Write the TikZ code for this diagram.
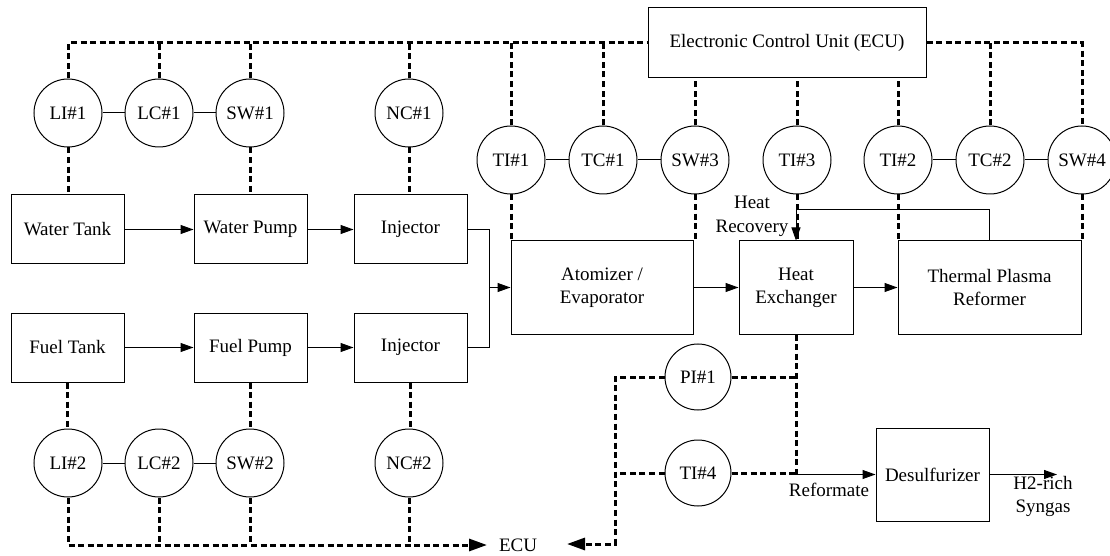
\documentclass[tikz,border=0pt]{standalone}
\usepackage{fontspec}
\setmainfont{Liberation Serif}
\usetikzlibrary{positioning, arrows.meta}

\tikzset{
    block/.style={draw, line width=0.5pt, minimum width=56.5pt, minimum height=34.5pt, inner sep=1pt, align=center},
    bigblock/.style={block, minimum height=46.5pt},
    sensor/.style={draw, circle, line width=0.5pt, minimum size=34pt, inner sep=0pt},
    lbl/.style={inner sep=1pt, align=center},
    sig/.style={line width=1.5pt, dash pattern=on 3pt off 1.8pt},
    sigtip/.style={-{Triangle[length=9pt, width=6pt]}},
    flow/.style={line width=0.5pt, -{Triangle[length=6.5pt, width=4.5pt]}},
    pipe/.style={line width=0.5pt},
}

\begin{document}
\begin{tikzpicture}[x=0.5pt, y=-0.5pt, font=\fontsize{9.5}{11.5}\selectfont]
\useasboundingbox (0,0) rectangle (1110,556);

% blocks
\node[block] (wtank) at (67.5,229.5) {Water Tank};
\node[block, right=34.5pt of wtank] (wpump) {Water Pump};
\node[block, right=23pt of wpump] (winj) {Injector};
\node[block, below=24pt of wtank] (ftank) {Fuel Tank};
\node[block, right=34.5pt of ftank] (fpump) {Fuel Pump};
\node[block, right=23pt of fpump] (finj) {Injector};
\node[bigblock, minimum width=91pt] (atom) at (602,287.5) {Atomizer /\\Evaporator};
\node[bigblock, minimum width=57pt] (hx) at (796,287.5) {Heat\\Exchanger};
\node[bigblock, minimum width=91.5pt] (ref) at (989.5,287.5) {Thermal Plasma\\Reformer};
\node[bigblock] (desulf) at (932.5,474.5) {Desulfurizer};
\node[block, minimum width=139pt, minimum height=35pt] (ecu) at (787,43) {Electronic Control Unit (ECU)};

% sensors
\node[sensor] (li1) at (68,113) {LI\#1};
\node[sensor, right=11pt of li1] (lc1) {LC\#1};
\node[sensor, right=11pt of lc1] (sw1) {SW\#1};
\node[sensor] (nc1) at (409,113) {NC\#1};
\node[sensor] (li2) at (68,463) {LI\#2};
\node[sensor, right=11pt of li2] (lc2) {LC\#2};
\node[sensor, right=11pt of lc2] (sw2) {SW\#2};
\node[sensor] (nc2) at (409,463) {NC\#2};
\node[sensor] (ti1) at (511,160) {TI\#1};
\node[sensor, right=11.5pt of ti1] (tc1) {TC\#1};
\node[sensor, right=11.5pt of tc1] (sw3) {SW\#3};
\node[sensor] (ti3) at (797,160) {TI\#3};
\node[sensor] (ti2) at (898,160) {TI\#2};
\node[sensor, right=11.5pt of ti2] (tc2) {TC\#2};
\node[sensor, right=11.5pt of tc2] (sw4) {SW\#4};
\node[sensor, minimum size=33pt] (pi1) at (698,377) {PI\#1};
\node[sensor, minimum size=33pt] (ti4) at (698,473) {TI\#4};

% labels
\node[lbl] (ecutxt) at (518,545) {ECU};
\node[lbl, font=\fontsize{9.5}{12}\selectfont] (hrlbl) at (752,216) {Heat\\Recovery};
\node[lbl] (reflbl) at (829,490) {Reformate};
\node[lbl] (gaslbl) at (1043,496) {H2-rich\\Syngas};

\coordinate (mix) at (489,287.5);
\coordinate (gasout) at (1057,474.5);
\coordinate (ecuL) at (487,545);
\coordinate (ecuR) at (567,544);
\coordinate (jn) at (615,544);

% process flow
\draw[flow] (wtank) -- (wpump);
\draw[flow] (wpump) -- (winj);
\draw[flow] (ftank) -- (fpump);
\draw[flow] (fpump) -- (finj);
\draw[pipe] (winj.east) -| (mix);
\draw[pipe] (finj.east) -| (mix);
\draw[flow] (mix) -- (atom.west);
\draw[flow] (atom) -- (hx);
\draw[flow] (hx) -- (ref);
\draw[flow] (ref.north) -- ++(0,-31) -| (hx.north);
\draw[flow] (hx.south |- desulf.west) -- (desulf.west);
\draw[flow] (desulf.east) -- (gasout);

% local links between sensors
\draw[pipe] (li1) -- (lc1) -- (sw1);
\draw[pipe] (li2) -- (lc2) -- (sw2);
\draw[pipe] (ti1) -- (tc1) -- (sw3);
\draw[pipe] (ti2) -- (tc2) -- (sw4);

% signal bus to ECU (top)
\draw[sig] (li1.north) |- (ecu.west);
\draw[sig] (lc1.north) -- (lc1.north |- ecu.west);
\draw[sig] (sw1.north) -- (sw1.north |- ecu.west);
\draw[sig] (nc1.north) -- (nc1.north |- ecu.west);
\draw[sig] (ti1.north) -- (ti1.north |- ecu.west);
\draw[sig] (tc1.north) -- (tc1.north |- ecu.west);
\draw[sig] (sw3.north) -- (sw3.north |- ecu.south);
\draw[sig] (ti3.north) -- (ti3.north |- ecu.south);
\draw[sig] (ti2.north) -- (ti2.north |- ecu.south);
\draw[sig] (ecu.east) -| (sw4.north);
\draw[sig] (tc2.north) -- (tc2.north |- ecu.east);

% sensors to blocks
\draw[sig] (li1.south) -- (li1.south |- wtank.north);
\draw[sig] (sw1.south) -- (sw1.south |- wpump.north);
\draw[sig] (nc1.south) -- (nc1.south |- winj.north);
\draw[sig] (ftank.south) -- (ftank.south |- li2.north);
\draw[sig] (fpump.south) -- (fpump.south |- sw2.north);
\draw[sig] (finj.south) -- (finj.south |- nc2.north);
\draw[sig] (ti1.south) -- (ti1.south |- atom.north);
\draw[sig] (sw3.south) -- (sw3.south |- atom.north);
\draw[sig] (ti3.south) -- (ti3.south |- hx.north);
\draw[sig] (ti2.south) -- (ti2.south |- ref.north);
\draw[sig] (sw4.south) -- (sw4.south |- ref.north);
\draw[sig] (hx.south) -- (hx.south |- desulf.west);
\draw[sig] (pi1.east) -- (pi1.east -| hx.south);
\draw[sig] (ti4.east) -- (ti4.east -| hx.south);

% signal bus to ECU (bottom)
\draw[sig, sigtip] (li2.south) |- (ecuL);
\draw[sig] (lc2.south) -- (lc2.south |- ecuL);
\draw[sig] (sw2.south) -- (sw2.south |- ecuL);
\draw[sig] (nc2.south) -- (nc2.south |- ecuL);
\draw[sig, sigtip] (pi1.west) -| (jn) -- (ecuR);
\draw[sig] (ti4.west) -- (ti4.west -| jn);
\end{tikzpicture}
\end{document}
